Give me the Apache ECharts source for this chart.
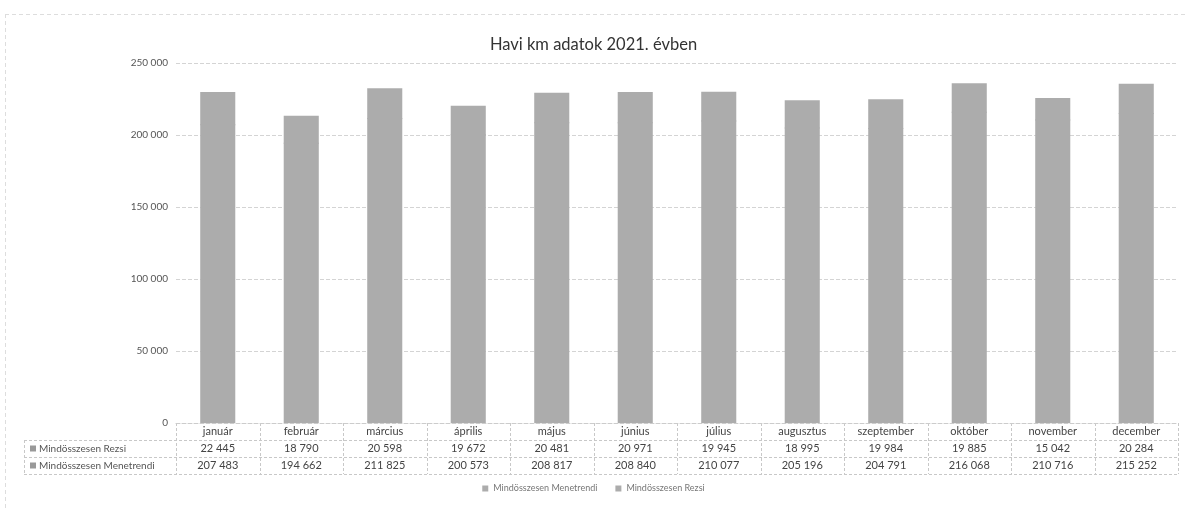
<!DOCTYPE html>
<html><head><meta charset="utf-8">
<script src="https://cdn.jsdelivr.net/npm/echarts@6/dist/echarts.min.js"></script>
<style>html,body{margin:0;padding:0;background:#fff}#c{width:1187px;height:510px}</style>
</head><body><div id="c"></div>
<script>
const categories = ['január','február','március','április','május','június','július','augusztus','szeptember','október','november','december'];
const rezsi = [22445,18790,20598,19672,20481,20971,19945,18995,19984,19885,15042,20284];
const menetrendi = [207483,194662,211825,200573,208817,208840,210077,205196,204791,216068,210716,215252];
const yTicks = [0,50000,100000,150000,200000,250000];
const seriesNames = ['Mindösszesen Menetrendi','Mindösszesen Rezsi'];
const FONT = 'Lato, "Open Sans", sans-serif';
function fmt(v){return String(v).replace(/\B(?=(\d{3})+(?!\d))/g,' ');}

// Rezsi is drawn on top of Menetrendi: its bar spans from the Menetrendi top to the total
const rezsiRange = rezsi.map((v,i)=>[i, menetrendi[i], menetrendi[i]+v]);

const chart = echarts.init(document.getElementById('c'));
const gridL = 176, gridR = 9, gridT = 63, gridB = 87;
const barColor = '#acacac';
chart.setOption({
  animation:false,
  backgroundColor:'#fff',
  title:{text:'Havi km adatok 2021. évben',left:'center',top:31,textStyle:{fontFamily:FONT,fontSize:16.5,fontWeight:'normal',color:'#333'}},
  legend:{bottom:12,left:'center',itemWidth:6,itemHeight:6,itemGap:18,icon:'rect',
    textStyle:{fontFamily:FONT,fontSize:9,color:'#777'},data:seriesNames},
  grid:{left:gridL,right:gridR,top:gridT,bottom:gridB},
  xAxis:{type:'category',data:categories,
    axisLine:{show:true,lineStyle:{color:'#ccc',type:'dashed'}},
    axisTick:{show:false},
    axisLabel:{margin:0,interval:0,fontFamily:FONT,color:'#444',fontSize:11,lineHeight:17,
      formatter:function(v,i){return v+'\n'+fmt(rezsi[i])+'\n'+fmt(menetrendi[i]);}}
  },
  yAxis:{type:'value',min:yTicks[0],max:yTicks[yTicks.length-1],interval:yTicks[1]-yTicks[0],
    axisLine:{show:false},axisTick:{show:false},
    axisLabel:{margin:8,fontFamily:FONT,fontSize:10,color:'#555',formatter:function(v){return fmt(v);}},
    splitLine:{lineStyle:{color:'#d4d4d4',type:'dashed'}}
  },
  series:[
    {name:seriesNames[0],type:'bar',data:menetrendi,barWidth:'42%',barGap:'-100%',z:3,itemStyle:{color:barColor}},
    {name:seriesNames[1],type:'custom',data:rezsiRange,z:2,
      encode:{x:0,y:[1,2]},itemStyle:{color:barColor},
      renderItem:function(params,api){
        const x = api.value(0);
        const p1 = api.coord([x, api.value(1)]);
        const p2 = api.coord([x, api.value(2)]);
        const w = api.size([1,0])[0]*0.42;
        return {type:'rect',shape:{x:p1[0]-w/2,y:p2[1],width:w,height:p1[1]-p2[1]+1},style:{fill:barColor}};
      }}
  ]
});

// table borders and row labels
const g = [];
const y0 = chart.convertToPixel({yAxisIndex:0},0);
const rowH = 17;
const xs = categories.map((c,i)=>chart.convertToPixel({xAxisIndex:0},i));
const half = (xs[1]-xs[0])/2;
const leftX = 24, rightX = xs[xs.length-1]+half;
const ls = {stroke:'#c8c8c8',lineWidth:1,lineDash:[3,2]};
for(let r=1;r<=3;r++){
  const y = Math.round(y0 + r*rowH)+0.5;
  g.push({type:'line',silent:true,shape:{x1:leftX,y1:y,x2:rightX,y2:y},style:ls});
}
const bounds = xs.map(x=>x-half).concat([rightX]);
bounds.forEach(x=>{
  const xx=Math.round(x)+0.5;
  g.push({type:'line',silent:true,shape:{x1:xx,y1:y0,x2:xx,y2:y0+3*rowH},style:ls});
});
g.push({type:'line',silent:true,shape:{x1:leftX+0.5,y1:y0+rowH,x2:leftX+0.5,y2:y0+3*rowH},style:ls});
const rowLabels = ['Mindösszesen Rezsi','Mindösszesen Menetrendi'];
rowLabels.forEach((t,i)=>{
  const cy = y0 + rowH*(i+1) + rowH/2;
  g.push({type:'rect',silent:true,shape:{x:30,y:cy-3,width:6,height:6},style:{fill:'#999'}});
  g.push({type:'text',silent:true,style:{x:39,y:cy,text:t,fontFamily:FONT,fontSize:10,fill:'#555',textVerticalAlign:'middle'}});
});
g.push({type:'line',silent:true,shape:{x1:5,y1:14.5,x2:1187,y2:14.5},style:{stroke:'#ddd',lineWidth:1,lineDash:[4,3]}});
g.push({type:'line',silent:true,shape:{x1:5.5,y1:14,x2:5.5,y2:510},style:{stroke:'#ddd',lineWidth:1,lineDash:[4,3]}});
chart.setOption({graphic:g});
</script></body></html>
